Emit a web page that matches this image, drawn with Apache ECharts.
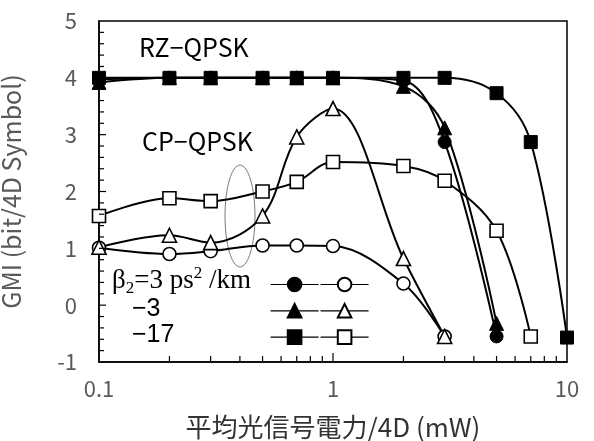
<!DOCTYPE html>
<html><head><meta charset="utf-8">
<script src="https://cdn.jsdelivr.net/npm/echarts@6/dist/echarts.min.js"></script>
<style>html,body{margin:0;padding:0;background:#fff}#c{width:594px;height:441px}</style>
</head><body><div id="c"></div>
<script>
// Data
const powerMW = [0.1, 0.2, 0.3, 0.5, 0.7, 1, 2, 3, 5, 7, 10];
const rzBeta3   = [3.97, 4.0, 4.0, 4.0, 4.0, 4.0, 3.95, 2.87, -0.55];
const rzBetaM3  = [3.92, 4.0, 4.0, 4.0, 4.0, 4.0, 3.85, 3.12, -0.32];
const rzBetaM17 = [4.0, 4.0, 4.0, 4.0, 4.0, 4.0, 4.0, 4.0, 3.73, 2.87, -0.57];
const cpBeta3   = [1.01, 0.90, 0.95, 1.05, 1.05, 1.04, 0.38, -0.55];
const cpBetaM3  = [1.02, 1.23, 1.10, 1.57, 2.96, 3.46, 0.82, -0.55];
const cpBetaM17 = [1.57, 1.88, 1.83, 2.00, 2.17, 2.52, 2.45, 2.19, 1.31, -0.55];
const xTickValues = [0.1, 1, 10];
const xMinorTicks = [0.2,0.3,0.4,0.5,0.6,0.7,0.8,0.9,2,3,4,5,6,7,8,9];
const yTickMin = -1, yTickMax = 5, yMinorStep = 0.2;

const pair = (ys) => ys.map((y, i) => [powerMW[i], y]);
const font = '"Noto Sans CJK JP", "Noto Sans", sans-serif';
const gray = '#595959';

function mk(name, data, symbol, filled) {
  return {
    name, type: 'line', data: pair(data), smooth: 0.35,
    symbol, symbolSize: symbol === 'triangle' ? 14 : 13,
    showSymbol: true,
    lineStyle: { color: '#000', width: 2 },
    itemStyle: filled ? { color: '#000', borderColor: '#000', borderWidth: 1 }
                      : { color: '#fff', borderColor: '#000', borderWidth: 1.6 },
    emphasis: { disabled: true },
    z: filled ? 3 : 2
  };
}

const chart = echarts.init(document.getElementById('c'), null, { renderer: 'canvas' });
const option = {
  animation: false,
  grid: { left: 99, right: 27, top: 21, bottom: 79, containLabel: false, outerBoundsMode: 'none',
          show: true, borderColor: '#000', borderWidth: 1.5, backgroundColor: 'transparent' },
  xAxis: {
    type: 'log', logBase: 10, min: 0.1, max: 10,
    axisLine: { show: true, onZero: false, lineStyle: { color: '#000', width: 1.5 } },
    axisTick: { show: false },
    splitLine: { show: false },
    axisLabel: { show: true, color: gray, fontSize: 22, fontFamily: font, margin: 16,
      formatter: v => { const t = xTickValues.find(x => Math.abs(x - v) < 1e-9); return t === undefined ? '' : String(t); } },
    name: '平均光信号電力/4D (mW)', nameLocation: 'middle', nameGap: 52,
    nameTextStyle: { color: '#333', fontSize: 26, fontFamily: font }
  },
  yAxis: {
    type: 'value', min: yTickMin, max: yTickMax, interval: 1,
    axisLine: { show: true, onZero: false, lineStyle: { color: '#000', width: 1.5 } },
    axisTick: { show: false },
    splitLine: { show: false },
    axisLabel: { show: true, color: gray, fontSize: 22, fontFamily: font, margin: 22 },
    name: 'GMI (bit/4D Symbol)', nameLocation: 'middle', nameGap: 75,
    nameTextStyle: { color: gray, fontSize: 25, fontFamily: font }
  },
  legend: [
    { data: ['rz3', 'rzm3', 'rzm17'], orient: 'vertical', left: 265, top: 271,
      itemWidth: 48, itemHeight: 17, itemGap: 10, formatter: () => '', selectedMode: false,
      lineStyle: { width: 1.2 } },
    { data: ['cp3', 'cpm3', 'cpm17'], orient: 'vertical', left: 315, top: 271,
      itemWidth: 48, itemHeight: 17, itemGap: 10, formatter: () => '', selectedMode: false,
      lineStyle: { width: 1.2 } }
  ],
  series: [
    mk('cp3', cpBeta3, 'circle', false),
    mk('cpm3', cpBetaM3, 'triangle', false),
    mk('cpm17', cpBetaM17, 'rect', false),
    mk('rz3', rzBeta3, 'circle', true),
    mk('rzm3', rzBetaM3, 'triangle', true),
    mk('rzm17', rzBetaM17, 'rect', true)
  ]
};
chart.setOption(option);

// inside tick marks, positioned through the axis scales
const tickStyle = { stroke: '#000', lineWidth: 1.2 };
const yBase = chart.convertToPixel({ yAxisIndex: 0 }, yTickMin);
const xLeft = chart.convertToPixel({ xAxisIndex: 0 }, 0.1);
const ticks = [];
xMinorTicks.forEach(v => {
  const px = chart.convertToPixel({ xAxisIndex: 0 }, v);
  ticks.push({ type: 'line', shape: { x1: px, y1: yBase, x2: px, y2: yBase - 6 }, style: tickStyle, z: 10, silent: true });
});
[1].forEach(v => {
  const px = chart.convertToPixel({ xAxisIndex: 0 }, v);
  ticks.push({ type: 'line', shape: { x1: px, y1: yBase, x2: px, y2: yBase - 9 }, style: tickStyle, z: 10, silent: true });
});
for (let k = 1; k < Math.round((yTickMax - yTickMin) / yMinorStep); k++) {
  const v = yTickMin + k * yMinorStep;
  const py = chart.convertToPixel({ yAxisIndex: 0 }, v);
  const major = Math.abs(v - Math.round(v)) < 1e-6;
  ticks.push({ type: 'line', shape: { x1: xLeft, y1: py, x2: xLeft + (major ? 7 : 5), y2: py }, style: tickStyle, z: 10, silent: true });
}

const serif = '"Liberation Serif", "DejaVu Serif", serif';
const sans = '"Liberation Sans", Arial, sans-serif';
chart.setOption({
  graphic: ticks.concat([
    { type: 'text', left: 139, top: 35, style: { text: 'RZ−QPSK', fill: '#000', font: '25px ' + font } },
    { type: 'text', left: 142, top: 129, style: { text: 'CP−QPSK', fill: '#000', font: '25px ' + font } },
    { type: 'ellipse', shape: { cx: 240, cy: 216, rx: 15, ry: 51 }, style: { fill: 'none', stroke: '#777', lineWidth: 1 }, z: 1 },
    { type: 'text', left: 112, top: 265, style: {
        text: '{a|β}{s|2}{a|=3 ps}{p|2}{a| /km}',
        rich: {
          a: { fontFamily: serif, fontSize: 27, fill: '#000', lineHeight: 32, verticalAlign: 'middle' },
          s: { fontFamily: serif, fontSize: 17, fill: '#000', lineHeight: 32, verticalAlign: 'bottom' },
          p: { fontFamily: serif, fontSize: 17, fill: '#000', lineHeight: 32, verticalAlign: 'top' }
        } } },
    { type: 'text', left: 132, top: 297, style: { text: '−3', fill: '#000', font: '25px ' + sans } },
    { type: 'text', left: 132, top: 323, style: { text: '−17', fill: '#000', font: '25px ' + sans } }
  ])
});
</script></body></html>
